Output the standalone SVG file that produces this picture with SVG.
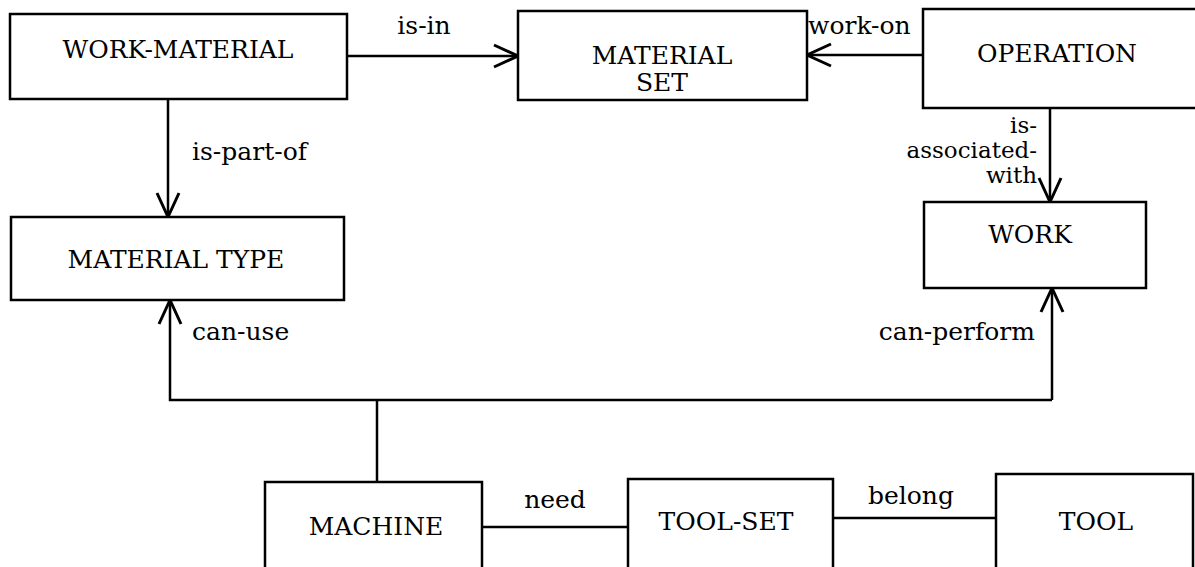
<svg xmlns="http://www.w3.org/2000/svg" width="1195" height="567" viewBox="0 0 1195 567">
<defs>
<style>
.box{fill:#fff;stroke:#000;stroke-width:2.5}
.t{font-family:"DejaVu Serif","Liberation Serif",serif;font-size:25px;fill:#000}
.s{font-size:23px}
.c{text-anchor:middle}
.e{text-anchor:end}
.ln{fill:none;stroke:#000;stroke-width:2.5}
</style>
<marker id="arr" markerUnits="userSpaceOnUse" markerWidth="30" markerHeight="30" viewBox="-28 -14 30 28" refX="0" refY="0" orient="auto" overflow="visible">
<path d="M-24,-11 L0,0 L-24,11" fill="none" stroke="#000" stroke-width="3"/>
</marker>
</defs>
<rect width="1195" height="567" fill="#fff"/>
<g id="connectors">
<line class="ln" x1="347" y1="56" x2="518" y2="56" marker-end="url(#arr)"/>
<line class="ln" x1="923" y1="55" x2="807" y2="55" marker-end="url(#arr)"/>
<line class="ln" x1="168" y1="99" x2="168" y2="217" marker-end="url(#arr)"/>
<line class="ln" x1="1050" y1="108" x2="1050" y2="202" marker-end="url(#arr)"/>
<polyline class="ln" points="1052,400 170,400 170,300" marker-end="url(#arr)"/>
<line class="ln" x1="1052" y1="400" x2="1052" y2="288" marker-end="url(#arr)"/>
<line class="ln" x1="377" y1="400" x2="377" y2="482"/>
<line class="ln" x1="482" y1="527" x2="628" y2="527"/>
<line class="ln" x1="833" y1="518" x2="996" y2="518"/>
<text class="t c" x="424" y="34">is-in</text>
<text class="t" x="808" y="34">work-on</text>
<text class="t" x="192" y="160">is-part-of</text>
<text class="t s e" x="1037" y="133">is-</text>
<text class="t s e" x="1037" y="158">associated-</text>
<text class="t s e" x="1037" y="183">with</text>
<text class="t" x="192" y="340">can-use</text>
<text class="t e" x="1035" y="340">can-perform</text>
<text class="t c" x="555" y="508">need</text>
<text class="t c" x="911" y="504">belong</text>
</g>
<g id="work-material">
<rect class="box" x="10" y="14" width="337" height="85"/>
<text class="t c" x="178" y="58">WORK-MATERIAL</text>
</g>
<g id="material-set">
<rect class="box" x="518" y="11" width="289" height="89"/>
<text class="t c" x="662" y="64">MATERIAL</text>
<text class="t c" x="662" y="91">SET</text>
</g>
<g id="operation">
<rect class="box" x="923" y="9" width="290" height="99"/>
<text class="t c" x="1057" y="62">OPERATION</text>
</g>
<g id="material-type">
<rect class="box" x="11" y="217" width="333" height="83"/>
<text class="t c" x="176" y="268">MATERIAL TYPE</text>
</g>
<g id="work">
<rect class="box" x="924" y="202" width="222" height="86"/>
<text class="t c" x="1030" y="243">WORK</text>
</g>
<g id="machine">
<rect class="box" x="265" y="482" width="217" height="100"/>
<text class="t c" x="376" y="535">MACHINE</text>
</g>
<g id="tool-set">
<rect class="box" x="628" y="479" width="205" height="100"/>
<text class="t c" x="726" y="530">TOOL-SET</text>
</g>
<g id="tool">
<rect class="box" x="996" y="474" width="197" height="110"/>
<text class="t c" x="1096" y="530">TOOL</text>
</g>
</svg>
